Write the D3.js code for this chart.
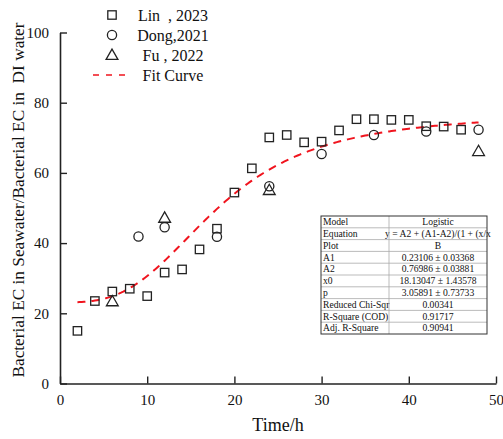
<!DOCTYPE html>
<html>
<head>
<meta charset="utf-8">
<script src="https://cdn.jsdelivr.net/npm/d3@7"></script>
<style>
  html, body { margin: 0; padding: 0; background: #fff; }
  svg { display: block; font-family: "Liberation Serif", "Times New Roman", serif; }
  svg text { white-space: pre; }
</style>
</head>
<body>
<svg id="chart" width="503" height="439"></svg>
<script>
// Lin, 2023 (squares)
const linTime  = [2, 4, 6, 8, 10, 12, 14, 16, 18, 20, 22, 24, 26, 28, 30, 32, 34, 36, 38, 40, 42, 44, 46];
const linValue = [15.0, 23.5, 26.2, 27.0, 24.9, 31.6, 32.5, 38.2, 44.1, 54.4, 61.3, 70.1, 70.8, 68.7, 68.9, 72.1, 75.3, 75.3, 75.1, 75.1, 73.3, 73.2, 72.3];

// Dong, 2021 (circles)
const dongTime  = [9, 12, 18, 24, 30, 36, 42, 48];
const dongValue = [41.9, 44.5, 41.8, 56.2, 65.4, 70.8, 71.8, 72.3];

// Fu, 2022 (triangles)
const fuTime  = [6, 12, 24, 48];
const fuValue = [23.4, 47.2, 55.1, 66.2];

// Logistic fit parameters (fraction scale)
const fitA1 = 0.23106, fitA2 = 0.76986, fitX0 = 18.13047, fitP = 3.05891;
const fitRange = [2, 48];

const xTicks = [0, 10, 20, 30, 40, 50];
const yTicks = [0, 20, 40, 60, 80, 100];

const legendLabels = ["Lin  , 2023", "Dong,2021", "Fu , 2022", "Fit Curve"];

// The equation cell is narrower than its formula, so only its start is shown
const tableRows = [
  ["Model", "Logistic"],
  ["Equation", "y = A2 + (A1-A2)/(1 + (x/x"],
  ["Plot", "B"],
  ["A1", "0.23106 \u00b1 0.03368"],
  ["A2", "0.76986 \u00b1 0.03881"],
  ["x0", "18.13047 \u00b1 1.43578"],
  ["p", "3.05891 \u00b1 0.73733"],
  ["Reduced Chi-Sqr", "0.00341"],
  ["R-Square (COD)", "0.91717"],
  ["Adj. R-Square", "0.90941"]
];

const FONT = "Liberation Serif, Times New Roman, serif";
const svg = d3.select("#chart");
const margin = { left: 60, right: 7, top: 32.5, bottom: 55.5 };
const W = 503, H = 439;

const x = d3.scaleLinear().domain([0, 50]).range([margin.left, W - margin.right]);
const y = d3.scaleLinear().domain([0, 100]).range([H - margin.bottom, margin.top]);

// Axes with inward ticks
const xAxis = svg.append("g").attr("transform", `translate(0,${y(0)})`)
  .call(d3.axisBottom(x).tickValues(xTicks).tickSize(-7).tickPadding(11).tickSizeOuter(0));
const yAxis = svg.append("g").attr("transform", `translate(${x(0)},0)`)
  .call(d3.axisLeft(y).tickValues(yTicks).tickSize(-7).tickPadding(11).tickSizeOuter(0));
[xAxis, yAxis].forEach(g => {
  g.attr("font-family", FONT).attr("font-size", 15);
  g.select(".domain").attr("stroke", "#222").attr("stroke-width", 1.6);
  g.selectAll(".tick line").attr("stroke", "#222").attr("stroke-width", 1.4);
  g.selectAll(".tick text").attr("fill", "#111");
});

// Axis titles
svg.append("text").attr("x", (x(0) + x(50)) / 2).attr("y", 431)
  .attr("text-anchor", "middle").attr("font-size", 18).attr("fill", "#111").text("Time/h");
svg.append("text")
  .attr("transform", `translate(24,200) rotate(-90)`)
  .attr("text-anchor", "middle").attr("font-size", 17.3).attr("fill", "#111")
  .text("Bacterial EC in Seawater/Bacterial EC in  DI water");

// Fit curve sampled from the logistic model
const fitFn = t => 100 * (fitA2 + (fitA1 - fitA2) / (1 + Math.pow(t / fitX0, fitP)));
const fitPts = d3.range(fitRange[0], fitRange[1] + 0.001, 0.25).map(t => [t, fitFn(t)]);
svg.append("path").datum(fitPts)
  .attr("d", d3.line().x(d => x(d[0])).y(d => y(d[1])))
  .attr("fill", "none").attr("stroke", "#f0141e").attr("stroke-width", 2)
  .attr("stroke-dasharray", "8,6");

// Markers
const sq = 8.4, cr = 4.6, tri = 5.4;
const markStyle = sel => sel.attr("fill", "none").attr("stroke", "#222").attr("stroke-width", 1.3);

function drawSquare(g, cx, cy) {
  markStyle(g.append("rect").attr("x", cx - sq / 2).attr("y", cy - sq / 2).attr("width", sq).attr("height", sq));
}
function drawCircle(g, cx, cy) {
  markStyle(g.append("circle").attr("cx", cx).attr("cy", cy).attr("r", cr));
}
function drawTriangle(g, cx, cy) {
  markStyle(g.append("path").attr("d",
    `M${cx},${cy - tri - 0.5}L${cx + tri + 0.5},${cy + tri - 1}L${cx - tri - 0.5},${cy + tri - 1}Z`));
}

const marks = svg.append("g");
linTime.forEach((t, i) => drawSquare(marks, x(t), y(linValue[i])));
dongTime.forEach((t, i) => drawCircle(marks, x(t), y(dongValue[i])));
fuTime.forEach((t, i) => drawTriangle(marks, x(t), y(fuValue[i])));

// Legend
const lg = svg.append("g");
const lgMarkX = 112, lgTextX = 173, lgY0 = 15, lgStep = 20;
drawSquare(lg, lgMarkX, lgY0);
drawCircle(lg, lgMarkX, lgY0 + lgStep);
drawTriangle(lg, lgMarkX, lgY0 + 2 * lgStep);
lg.append("line").attr("x1", 93).attr("x2", 127)
  .attr("y1", lgY0 + 3 * lgStep).attr("y2", lgY0 + 3 * lgStep)
  .attr("stroke", "#f0141e").attr("stroke-width", 1.6).attr("stroke-dasharray", "6,7");
legendLabels.forEach((lab, i) => {
  lg.append("text").attr("x", lgTextX).attr("y", lgY0 + i * lgStep + 5.5)
    .attr("text-anchor", "middle").attr("font-size", 16).attr("fill", "#111").text(lab);
});

// Fit statistics table
const tbl = { x: 321, y: 216, w: 166, col1: 68, rowH: 11.8 };
const tg = svg.append("g");
const tblH = tbl.rowH * tableRows.length;
tg.append("rect").attr("x", tbl.x).attr("y", tbl.y).attr("width", tbl.w).attr("height", tblH)
  .attr("fill", "#fff");
tableRows.forEach((row, i) => {
  const ry = tbl.y + i * tbl.rowH;
  if (i > 0) tg.append("line").attr("x1", tbl.x).attr("x2", tbl.x + tbl.w)
    .attr("y1", ry).attr("y2", ry).attr("stroke", "#aaa").attr("stroke-width", 0.8);
  tg.append("text").attr("x", tbl.x + 2).attr("y", ry + tbl.rowH - 2.6)
    .attr("font-size", 9.6).attr("fill", "#111").text(row[0]);
  tg.append("text").attr("x", tbl.x + tbl.col1 + (tbl.w - tbl.col1) / 2)
    .attr("y", ry + tbl.rowH - 2.6).attr("text-anchor", "middle")
    .attr("font-size", 9.6).attr("fill", "#111").text(row[1]);
});
tg.append("line").attr("x1", tbl.x + tbl.col1).attr("x2", tbl.x + tbl.col1)
  .attr("y1", tbl.y).attr("y2", tbl.y + tblH).attr("stroke", "#aaa").attr("stroke-width", 0.8);
tg.append("rect").attr("x", tbl.x).attr("y", tbl.y).attr("width", tbl.w).attr("height", tblH)
  .attr("fill", "none").attr("stroke", "#333").attr("stroke-width", 1);
</script>
</body>
</html>
